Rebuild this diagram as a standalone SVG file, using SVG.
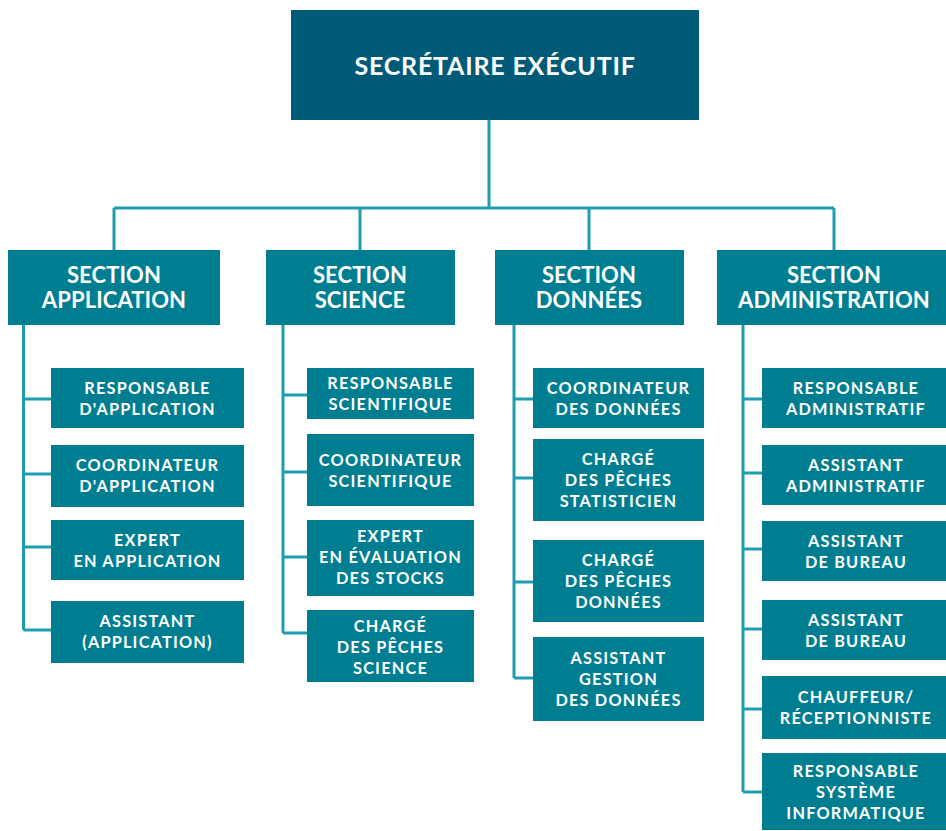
<svg xmlns="http://www.w3.org/2000/svg" width="946" height="831" viewBox="0 0 946 831">
<style>
.top{fill:#015a78}
.box{fill:#007e91}
.t{fill:#ffffff;font-family:Lato,"Open Sans","Liberation Sans",sans-serif;font-weight:700;text-anchor:middle}
.t1{font-size:25px;letter-spacing:0.8px}
.t2{font-size:22px;letter-spacing:0.1px}
.t3{font-size:16.3px;letter-spacing:1.2px}
.ln{stroke:#1e9db1;stroke-width:3;fill:none}
</style>
<rect width="946" height="831" fill="#ffffff"/>
<g id="connectors" class="ln">
<path d="M489 120V208M114 208H834M114 208V250M360 208V250M589 208V250M834 208V250"/>
<path d="M23.5 325V630M23.5 399H51M23.5 474H51M23.5 547H51M23.5 630H51"/>
<path d="M283 325V633M283 395H307M283 472H307M283 557H307M283 633H307"/>
<path d="M514 325V678M514 399H533M514 478H533M514 582H533M514 678H533"/>
<path d="M743 325V792M743 399H762M743 473H762M743 549H762M743 629H762M743 709H762M743 792H762"/>
</g>
<g id="secretaire"><rect class="top" x="291" y="10" width="408" height="110"/><text class="t t1" x="495" y="75">SECRÉTAIRE EXÉCUTIF</text></g>
<g id="sec-app"><rect class="box" x="8" y="250" width="212" height="75"/><text class="t t2" x="114" y="283">SECTION</text><text class="t t2" x="114" y="308">APPLICATION</text></g>
<g id="sec-sci"><rect class="box" x="266" y="250" width="189" height="75"/><text class="t t2" x="360" y="283">SECTION</text><text class="t t2" x="360" y="308">SCIENCE</text></g>
<g id="sec-don"><rect class="box" x="495" y="250" width="189" height="75"/><text class="t t2" x="589" y="283">SECTION</text><text class="t t2" x="589" y="308">DONNÉES</text></g>
<g id="sec-adm"><rect class="box" x="717" y="250" width="229" height="75"/><text class="t t2" x="834" y="283">SECTION</text><text class="t t2" x="834" y="308">ADMINISTRATION</text></g>

<g id="app1"><rect class="box" x="51" y="368" width="193" height="60"/><text class="t t3" x="147.5" y="394">RESPONSABLE</text><text class="t t3" x="147.5" y="415">D'APPLICATION</text></g>
<g id="app2"><rect class="box" x="51" y="445" width="193" height="62"/><text class="t t3" x="147.5" y="471">COORDINATEUR</text><text class="t t3" x="147.5" y="492">D'APPLICATION</text></g>
<g id="app3"><rect class="box" x="51" y="520" width="193" height="60"/><text class="t t3" x="147.5" y="546">EXPERT</text><text class="t t3" x="147.5" y="567">EN APPLICATION</text></g>
<g id="app4"><rect class="box" x="51" y="601" width="193" height="62"/><text class="t t3" x="147.5" y="627">ASSISTANT</text><text class="t t3" x="147.5" y="648">(APPLICATION)</text></g>

<g id="sci1"><rect class="box" x="307" y="368" width="167" height="51"/><text class="t t3" x="390.5" y="389">RESPONSABLE</text><text class="t t3" x="390.5" y="410">SCIENTIFIQUE</text></g>
<g id="sci2"><rect class="box" x="307" y="434" width="167" height="72"/><text class="t t3" x="390.5" y="466">COORDINATEUR</text><text class="t t3" x="390.5" y="487">SCIENTIFIQUE</text></g>
<g id="sci3"><rect class="box" x="307" y="520" width="167" height="76"/><text class="t t3" x="390.5" y="542">EXPERT</text><text class="t t3" x="390.5" y="563">EN ÉVALUATION</text><text class="t t3" x="390.5" y="584">DES STOCKS</text></g>
<g id="sci4"><rect class="box" x="307" y="610" width="167" height="72"/><text class="t t3" x="390.5" y="632">CHARGÉ</text><text class="t t3" x="390.5" y="653">DES PÊCHES</text><text class="t t3" x="390.5" y="674">SCIENCE</text></g>

<g id="don1"><rect class="box" x="533" y="368" width="171" height="60"/><text class="t t3" x="618.5" y="394">COORDINATEUR</text><text class="t t3" x="618.5" y="415">DES DONNÉES</text></g>
<g id="don2"><rect class="box" x="533" y="439" width="171" height="82"/><text class="t t3" x="618.5" y="465">CHARGÉ</text><text class="t t3" x="618.5" y="486">DES PÊCHES</text><text class="t t3" x="618.5" y="507">STATISTICIEN</text></g>
<g id="don3"><rect class="box" x="533" y="540" width="171" height="82"/><text class="t t3" x="618.5" y="566">CHARGÉ</text><text class="t t3" x="618.5" y="587">DES PÊCHES</text><text class="t t3" x="618.5" y="608">DONNÉES</text></g>
<g id="don4"><rect class="box" x="533" y="637" width="171" height="84"/><text class="t t3" x="618.5" y="664">ASSISTANT</text><text class="t t3" x="618.5" y="685">GESTION</text><text class="t t3" x="618.5" y="706">DES DONNÉES</text></g>

<g id="adm1"><rect class="box" x="762" y="368" width="184" height="60"/><text class="t t3" x="856" y="394">RESPONSABLE</text><text class="t t3" x="856" y="415">ADMINISTRATIF</text></g>
<g id="adm2"><rect class="box" x="762" y="445" width="184" height="60"/><text class="t t3" x="856" y="471">ASSISTANT</text><text class="t t3" x="856" y="492">ADMINISTRATIF</text></g>
<g id="adm3"><rect class="box" x="762" y="521" width="184" height="60"/><text class="t t3" x="856" y="547">ASSISTANT</text><text class="t t3" x="856" y="568">DE BUREAU</text></g>
<g id="adm4"><rect class="box" x="762" y="600" width="184" height="60"/><text class="t t3" x="856" y="626">ASSISTANT</text><text class="t t3" x="856" y="647">DE BUREAU</text></g>
<g id="adm5"><rect class="box" x="762" y="676" width="184" height="63"/><text class="t t3" x="856" y="703">CHAUFFEUR/</text><text class="t t3" x="856" y="724">RÉCEPTIONNISTE</text></g>
<g id="adm6"><rect class="box" x="762" y="753" width="184" height="77"/><text class="t t3" x="856" y="777">RESPONSABLE</text><text class="t t3" x="856" y="798">SYSTÈME</text><text class="t t3" x="856" y="819">INFORMATIQUE</text></g>
</svg>
